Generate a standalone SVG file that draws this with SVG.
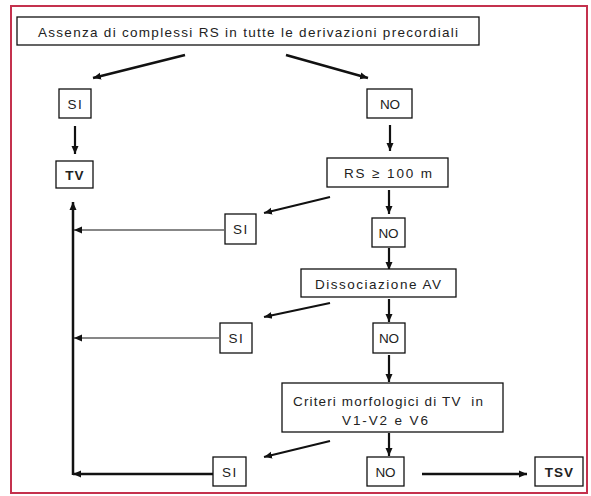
<svg xmlns="http://www.w3.org/2000/svg" width="591" height="496" viewBox="0 0 591 496">
  <style>
    .box { fill: #ffffff; stroke: #111111; stroke-width: 1.3; }
    .lbl { font-family: "Liberation Sans", Arial, sans-serif; font-size: 13.5px; fill: #222222; text-anchor: middle; }
    .bold { font-weight: bold; letter-spacing: 1px; }
    .thick { stroke: #111111; stroke-width: 2.5; fill: none; }
    .mid { stroke: #111111; stroke-width: 2.2; fill: none; }
    .thin { stroke: #111111; stroke-width: 1.2; fill: none; }
  </style>
  <defs>
    <marker id="head" markerUnits="userSpaceOnUse" markerWidth="10" markerHeight="10" refX="8" refY="5" orient="auto">
      <path d="M0,1.5 L8,5 L0,8.5 Z" fill="#111111"/>
    </marker>
  </defs>

  <rect width="591" height="496" fill="#ffffff"/>
  <!-- outer frame -->
  <rect x="11" y="6" width="576" height="487" fill="none" stroke="#c4314d" stroke-width="2"/>

  <g id="connectors">
    <line class="thick" x1="185" y1="55" x2="93" y2="78" marker-end="url(#head)"/>
    <line class="thick" x1="286" y1="55" x2="368" y2="78" marker-end="url(#head)"/>
    <line class="mid" x1="75" y1="126" x2="75" y2="154" marker-end="url(#head)"/>
    <line class="mid" x1="390" y1="125" x2="390" y2="151" marker-end="url(#head)"/>
    <line class="mid" x1="389" y1="190" x2="389" y2="214" marker-end="url(#head)"/>
    <line class="mid" x1="389" y1="248" x2="389" y2="270" marker-end="url(#head)"/>
    <line class="mid" x1="389" y1="299" x2="389" y2="322" marker-end="url(#head)"/>
    <line class="mid" x1="389" y1="355" x2="389" y2="382" marker-end="url(#head)"/>
    <line class="mid" x1="389" y1="433" x2="389" y2="456" marker-end="url(#head)"/>
    <line class="mid" x1="330" y1="197" x2="264" y2="213" marker-end="url(#head)"/>
    <line class="mid" x1="330" y1="303" x2="264" y2="317" marker-end="url(#head)"/>
    <line class="mid" x1="330" y1="441" x2="264" y2="457" marker-end="url(#head)"/>
    <line class="thin" x1="224" y1="230" x2="74" y2="230" marker-end="url(#head)"/>
    <line class="thin" x1="219" y1="338" x2="74" y2="338" marker-end="url(#head)"/>
    <line class="thick" x1="213" y1="474" x2="73" y2="474" marker-end="url(#head)"/>
    <line class="thick" x1="73" y1="475" x2="73" y2="202" marker-end="url(#head)"/>
    <line class="thick" x1="422" y1="474" x2="527" y2="474" marker-end="url(#head)"/>
  </g>

  <g id="start">
    <rect class="box" x="17" y="17" width="462" height="28"/>
    <text class="lbl" x="248" y="36.5" font-size="14" textLength="420" lengthAdjust="spacing">Assenza di complessi RS in tutte le derivazioni precordiali</text>
  </g>
  <g id="si1">
    <rect class="box" x="59" y="89" width="32" height="29"/>
    <text class="lbl" x="75.5" y="108.5" letter-spacing="1.5">SI</text>
  </g>
  <g id="no1">
    <rect class="box" x="367" y="89" width="45" height="29"/>
    <text class="lbl" x="390" y="108.5" font-size="14">NO</text>
  </g>
  <g id="tv">
    <rect class="box" x="56" y="161" width="37" height="27"/>
    <text class="lbl bold" x="75" y="180" font-size="13">TV</text>
  </g>
  <g id="rs">
    <rect class="box" x="327" y="158" width="121" height="29"/>
    <text class="lbl" x="388" y="177.5" font-size="14" textLength="88" lengthAdjust="spacing">RS ≥ 100 m</text>
  </g>
  <g id="si2">
    <rect class="box" x="225" y="214" width="31" height="30"/>
    <text class="lbl" x="241" y="234" letter-spacing="1.5">SI</text>
  </g>
  <g id="no2">
    <rect class="box" x="372" y="218" width="33" height="29"/>
    <text class="lbl" x="388.5" y="237.5" font-size="14">NO</text>
  </g>
  <g id="dissociazione">
    <rect class="box" x="301" y="269" width="155" height="28"/>
    <text class="lbl" x="378" y="288.5" font-size="14" textLength="126" lengthAdjust="spacing">Dissociazione AV</text>
  </g>
  <g id="si3">
    <rect class="box" x="220" y="323" width="32" height="30"/>
    <text class="lbl" x="236.5" y="343" letter-spacing="1.5">SI</text>
  </g>
  <g id="no3">
    <rect class="box" x="373" y="323" width="32" height="30"/>
    <text class="lbl" x="389" y="342.5" font-size="14">NO</text>
  </g>
  <g id="criteri">
    <rect class="box" x="282" y="383" width="221" height="49"/>
    <text class="lbl" x="388" y="406" font-size="14" textLength="190" lengthAdjust="spacing" xml:space="preserve">Criteri morfologici di TV  in</text>
    <text class="lbl" x="385" y="425" font-size="14" textLength="86" lengthAdjust="spacing">V1-V2 e V6</text>
  </g>
  <g id="si4">
    <rect class="box" x="213" y="457" width="33" height="29"/>
    <text class="lbl" x="230" y="476.5" letter-spacing="1.5">SI</text>
  </g>
  <g id="no4">
    <rect class="box" x="367" y="457" width="37" height="29"/>
    <text class="lbl" x="385.5" y="476.5" font-size="14">NO</text>
  </g>
  <g id="tsv">
    <rect class="box" x="535" y="457" width="48" height="29"/>
    <text class="lbl bold" x="559.5" y="477" font-size="13">TSV</text>
  </g>
</svg>
